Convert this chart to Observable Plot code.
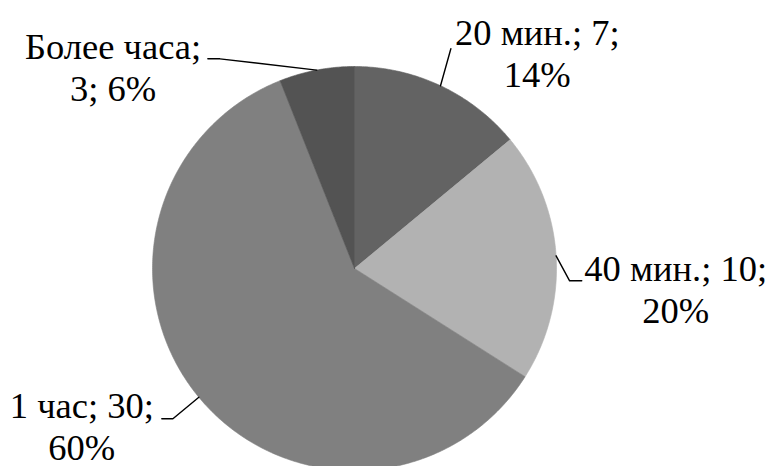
<!DOCTYPE html>
<html>
<head>
<meta charset="utf-8">
<script src="https://cdn.jsdelivr.net/npm/d3@7"></script>
<script src="https://cdn.jsdelivr.net/npm/@observablehq/plot@0.6"></script>
<style>
  html, body { margin: 0; padding: 0; background: #ffffff; }
  #chart svg { display: block; }
</style>
</head>
<body>
<div id="chart"></div>
<script>
// Time spent: categories and respondent counts
const categories = ["20 мин.", "40 мин.", "1 час", "Более часа"];
const counts = [7, 10, 30, 3];

// Slice shades, in category order
const shades = ["#636363", "#b2b2b2", "#808080", "#535353"];

// Label layout in pie units (radius = 1): text anchor = baseline of the last line
const labelAt = [
  [0.905, 0.900],
  [1.590, -0.269],
  [-1.350, -0.950],
  [-1.195, 0.830]
];
// Leader line points beyond the rim (in pie units), ending next to the label
const leaderTail = [
  [[0.477, 1.088]],
  [[1.065, -0.061], [1.125, -0.061]],
  [[-0.899, -0.744], [-0.954, -0.744]],
  [[-0.666, 1.038], [-0.726, 1.038]]
];

const total = d3.sum(counts);
const arcs = d3.pie().sort(null).value((d, i) => counts[i])(categories);

// Polygon outline for each slice: centre, then along the rim clockwise from the top
const slicePoints = [];
arcs.forEach((a, i) => {
  const steps = Math.max(8, Math.ceil((a.endAngle - a.startAngle) / 0.01));
  slicePoints.push({cat: categories[i], x: 0, y: 0});
  for (let k = 0; k <= steps; ++k) {
    const t = a.startAngle + (a.endAngle - a.startAngle) * k / steps;
    slicePoints.push({cat: categories[i], x: Math.sin(t), y: Math.cos(t)});
  }
  slicePoints.push({cat: categories[i], x: 0, y: 0});
});

// Leader lines start on the rim at each slice's mid-angle
const leaderPoints = [];
arcs.forEach((a, i) => {
  const m = (a.startAngle + a.endAngle) / 2;
  leaderPoints.push({cat: categories[i], x: Math.sin(m), y: Math.cos(m)});
  leaderTail[i].forEach(([x, y]) => leaderPoints.push({cat: categories[i], x, y}));
});

const pct = d3.format(".0%");
const labels = categories.map((c, i) => ({
  text: i === 3
    ? `${c};\n${counts[i]}; ${pct(counts[i] / total)}`
    : `${c}; ${counts[i]};\n${pct(counts[i] / total)}`,
  x: labelAt[i][0],
  y: labelAt[i][1]
}));

const chart = Plot.plot({
  width: 776,
  height: 466,
  margin: 0,
  style: {background: "#ffffff"},
  x: {domain: [-1, 1], range: [152, 556], axis: null},
  y: {domain: [-1, 1], range: [470, 66], axis: null},
  color: {domain: categories, range: shades},
  marks: [
    Plot.line(slicePoints, {
      x: "x", y: "y", z: "cat",
      fill: "cat", stroke: "cat", strokeWidth: 0.6,
      curve: "linear"
    }),
    Plot.line(leaderPoints, {
      x: "x", y: "y", z: "cat",
      stroke: "#000000", strokeWidth: 1.4
    }),
    Plot.text(labels, {
      x: "x", y: "y", text: "text",
      textAnchor: "middle",
      lineAnchor: "bottom",
      lineHeight: 1.15,
      fontSize: 36.5,
      fontFamily: "Times New Roman",
      fill: "#000000"
    })
  ]
});

document.getElementById("chart").appendChild(chart);
</script>
</body>
</html>
